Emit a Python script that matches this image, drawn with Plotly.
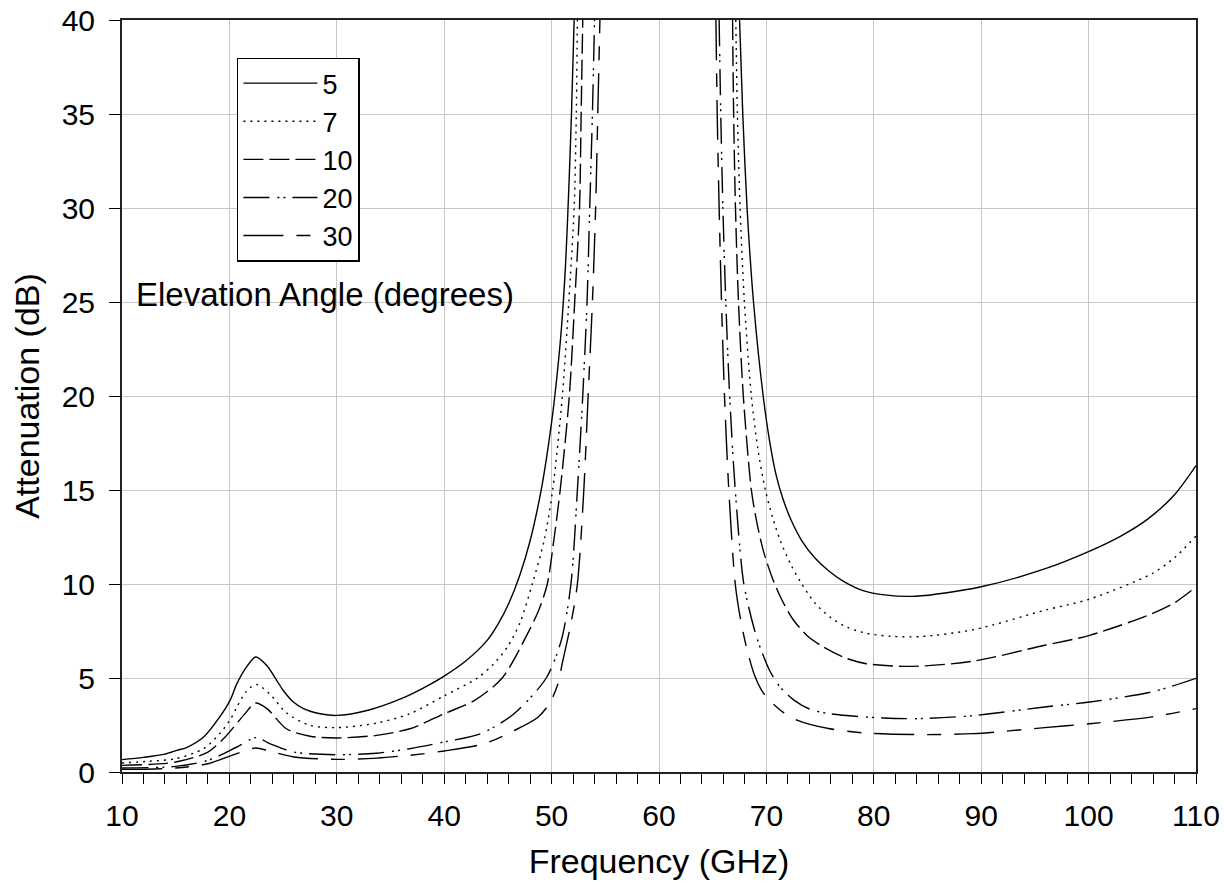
import plotly.graph_objects as go

# ---- data (frequency GHz, attenuation dB); None separates the two visible branches ----
freq_5 = [10, 12, 14, 15.1, 16, 17.6, 19.1, 20.06, 20.7, 21.6, 22.45, 23.48, 24.4, 25.0, 25.96, 26.9, 28.1, 30, 33, 36, 38, 40,
          42, 44, 45, 46, 47, 48, 49, 49.5, 50, 50.3, 50.9, 51.3, 51.6, 51.85, 52.1,
          None,
          67.5, 67.8, 68.2, 68.8, 69.7, 70.3, 70.9, 71.5, 72.3, 73.3, 74.5, 75.9, 77.3, 79.0, 81.0, 83.9, 89.9, 95.9,
          100.1, 103, 105.5, 108, 110]
att_5 = [0.66, 0.78, 0.95, 1.15, 1.3, 1.86, 2.93, 3.81, 4.7, 5.59, 6.12, 5.67, 4.88, 4.35, 3.72, 3.37, 3.14, 3.01, 3.3, 3.9, 4.45, 5.1,
         5.9, 7.0, 7.85, 8.95, 10.4, 12.3, 14.9, 16.6, 18.6, 20, 23.5, 27, 31, 35, 40,
         None,
         40, 35, 30, 25, 20, 17.6, 15.8, 14.6, 13.4, 12.3, 11.4, 10.65, 10.1, 9.65, 9.42, 9.35, 9.84, 10.8,
         11.75, 12.55, 13.45, 14.75, 16.3]

freq_7 = [10, 12.5, 15, 17.6, 19.1, 20.1, 20.7, 21.6, 22.5, 23.8, 25.3, 27.5, 30, 33.7, 36.8, 40, 43.1, 44.6, 45.9, 47.1,
          48.2, 49.3, 50.1, 51.0, 51.6, 52.1, 52.3, 52.4,
          None,
          67.15, 67.3, 67.55, 67.95, 68.6, 69.2, 69.9, 70.6, 71.3, 72.3, 73.3, 74.5, 75.9, 77.5, 79.3, 81.5, 84.3, 89.3,
          95.9, 100.1, 105.9, 108, 110]
att_7 = [0.48, 0.57, 0.71, 1.24, 2.04, 2.8, 3.46, 4.3, 4.66, 4.12, 3.15, 2.48, 2.36, 2.6, 3.1, 4.05, 5.0, 5.75, 6.66, 8.0,
         10, 12.3, 15, 20, 25, 30, 35, 40,
         None,
         40, 35, 30, 25, 20, 17.2, 15, 13.5, 12.3, 11.0, 10.0, 9.0, 8.25, 7.7, 7.38, 7.22, 7.2, 7.57,
         8.6, 9.2, 10.55, 11.4, 12.55]

freq_10 = [10, 15, 18, 19.6, 21.3, 22.45, 23.5, 25.3, 27.5, 30, 33.7, 36.8, 40, 42.8, 45.4, 47.8, 48.8, 49.6, 50.2, 50.8, 51.65,
           52.15, 52.6, 52.75, 52.9,
           None,
           66.85, 66.95, 67.12, 67.4, 67.85, 68.6, 69.1, 69.7, 70.5, 71.4, 72.5, 73.8, 75.3, 77.2, 79.3, 83.6, 89.3,
           95.9, 100.1, 105.9, 108, 110]
att_10 = [0.35, 0.53, 1.06, 1.86, 3.0, 3.67, 3.37, 2.3, 1.9, 1.81, 1.95, 2.3, 3.1, 3.8, 5.0, 7.4, 8.6, 10, 12.3, 15, 20,
          25, 30, 35, 40,
          None,
          40, 35, 30, 25, 20, 15, 13.3, 11.8, 10.4, 9.2, 8.1, 7.25, 6.65, 6.1, 5.76, 5.62, 5.9,
          6.74, 7.27, 8.42, 9.0, 9.84]

freq_20 = [10, 15, 18, 20.7, 22.45, 23.8, 26, 30, 33.7, 36.8, 40, 43.4, 46.5, 49.5, 50.9, 51.8, 52.4, 52.9, 53.3,
           53.55, 53.8, 54.0,
           None,
           65.6, 65.75, 65.95, 66.22, 66.58, 67.1, 67.9, 68.9, 69.5, 70.3, 71.3, 72.6, 74.0, 75.9, 80.9, 84.3, 89.3,
           95.9, 100.1, 105.9, 110]
att_20 = [0.21, 0.3, 0.62, 1.33, 1.83, 1.5, 1.06, 0.92, 1.0, 1.24, 1.6, 2.04, 3.1, 5.0, 7.0, 10, 15, 20, 25,
          30, 35, 40,
          None,
          40, 35, 30, 25, 20, 15, 10, 7.54, 6.5, 5.4, 4.5, 3.81, 3.35, 3.1, 2.87, 2.84, 3.0,
          3.46, 3.72, 4.26, 4.98]

freq_30 = [10, 15, 18, 20.7, 22.45, 23.8, 26, 30, 33.7, 36.8, 40, 43.7, 46.5, 48.7, 49.8, 50.6, 51.0, 51.8, 52.4,
           53.0, 53.4, 53.8, 54.1, 54.3, 54.5,
           None,
           65.3, 65.42, 65.6, 65.82, 66.1, 66.5, 67.1, 67.6, 68.2, 68.9, 69.6, 70.3, 71.5, 72.9, 75.9, 79.3, 84.3, 89.3,
           95.9, 100.1, 105.9, 110]
att_30 = [0.14, 0.21, 0.44, 0.98, 1.28, 1.1, 0.8, 0.67, 0.74, 0.89, 1.12, 1.5, 2.2, 2.9, 3.64, 4.7, 5.8, 7.9, 10,
          15, 20, 25, 30, 35, 40,
          None,
          40, 35, 30, 25, 20, 15, 10, 8.1, 6.5, 5.14, 4.3, 3.81, 3.2, 2.75, 2.3, 2.07, 1.99, 2.04,
          2.36, 2.57, 2.93, 3.37]

angles = ["5", "7", "10", "20", "30"]
freqs = [freq_5, freq_7, freq_10, freq_20, freq_30]
atts = [att_5, att_7, att_10, att_20, att_30]
dashes = ["solid", "2px,5px", "20px,6px", "26px,8px,2px,4px,2px,7px", "40px,13px,14px,13px"]

x_ticks = list(range(10, 111, 10))
y_ticks = list(range(0, 41, 5))

FONT = "Liberation Sans, Arial, sans-serif"

fig = go.Figure()
for name, fx, ay, dsh in zip(angles, freqs, atts, dashes):
    fig.add_trace(go.Scatter(
        x=fx, y=ay, name=name, mode="lines",
        line=dict(color="black", width=1.4, dash=dsh, shape="spline", smoothing=0.8),
        connectgaps=False,
    ))

fig.update_layout(
    width=1229, height=892,
    margin=dict(l=122, r=33, t=20, b=120, autoexpand=False),
    paper_bgcolor="white", plot_bgcolor="white",
    font=dict(family=FONT, color="black", size=29),
    showlegend=True,
    legend=dict(
        x=0.107, y=0.95, xanchor="left", yanchor="top",
        bgcolor="white", bordercolor="black", borderwidth=1.5,
        font=dict(family=FONT, size=27, color="black"),
        itemwidth=74, tracegroupgap=0,
    ),
    annotations=[dict(
        text="Elevation Angle (degrees)", xref="paper", yref="paper",
        x=0.011, y=0.635, xanchor="left", yanchor="middle", showarrow=False,
        font=dict(family=FONT, size=33, color="black"),
    )],
)

fig.update_xaxes(
    range=[10, 110], tickvals=x_ticks, ticktext=[str(v) for v in x_ticks],
    showgrid=True, gridcolor="#c8c8c8", gridwidth=1,
    showline=True, linecolor="#222", linewidth=2, mirror=True,
    ticks="outside", ticklen=10, tickwidth=1.3, tickcolor="black",
    minor=dict(dtick=2, ticks="outside", ticklen=10, tickwidth=1.3, tickcolor="black", showgrid=False),
    tickfont=dict(family=FONT, size=30), zeroline=False, automargin=False,
    ticklabelstandoff=6,
    title=dict(text="Frequency (GHz)", font=dict(family=FONT, size=34), standoff=18),
)
fig.update_yaxes(
    range=[0, 40], tickvals=y_ticks, ticktext=[str(v) for v in y_ticks],
    showgrid=True, gridcolor="#c8c8c8", gridwidth=1,
    showline=True, linecolor="#222", linewidth=2, mirror=True,
    ticks="outside", ticklen=11, tickwidth=1.3, tickcolor="black",
    tickfont=dict(family=FONT, size=30), zeroline=False, automargin=False,
    ticklabelstandoff=8,
    title=dict(text="Attenuation (dB)", font=dict(family=FONT, size=34), standoff=12),
)

fig.write_html("out.html")
